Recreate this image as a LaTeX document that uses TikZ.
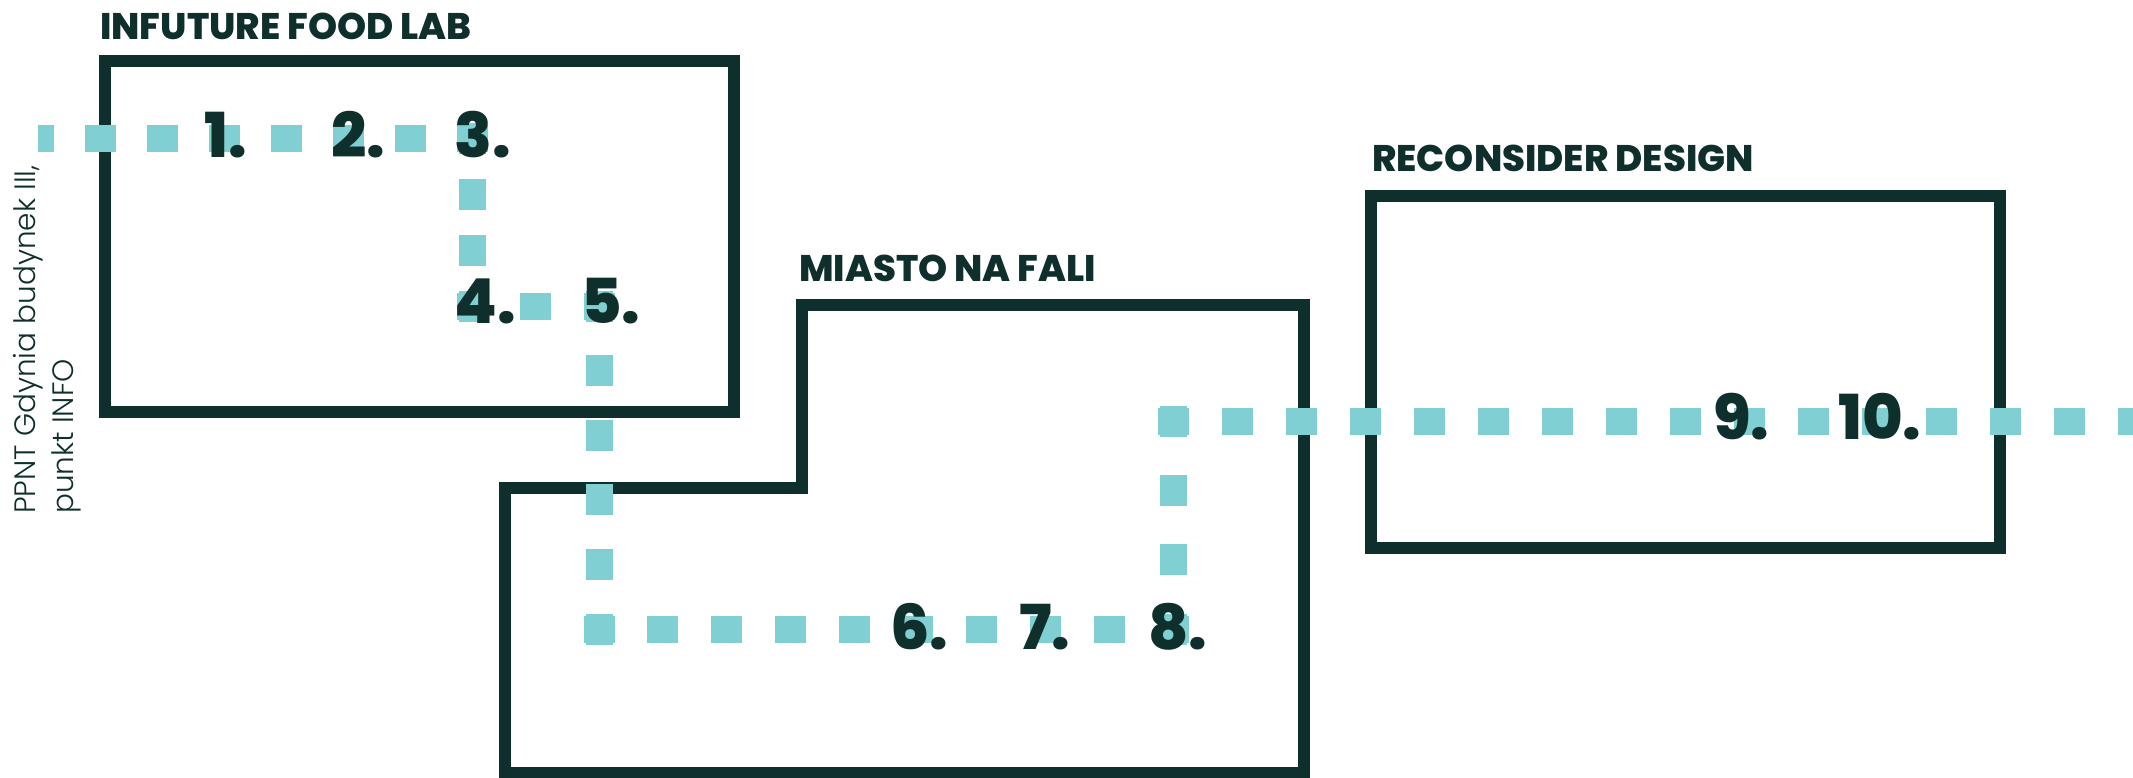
\documentclass[tikz,border=0pt]{standalone}
\usepackage{fontspec}
\setmainfont{Poppins}
\newfontfamily\thinfont{Poppins Light}
\newfontfamily\heavyfont{Poppins ExtraBold}
\definecolor{inkdark}{HTML}{0F2F2C}
\definecolor{routeteal}{HTML}{7FCFD3}

\begin{document}
\begin{tikzpicture}[x=1pt, y=-1pt,
    room/.style={draw=inkdark, line width=12pt, line join=miter},
    route/.style={draw=routeteal, line width=27pt, line cap=butt},
    leg/.style={route, shorten <=-15.5pt, shorten >=-15.5pt},
    roomname/.style={anchor=base west, inner sep=0pt, text=inkdark, font=\heavyfont\fontsize{37}{37}\selectfont},
    stop/.style={anchor=base west, inner sep=0pt, text=inkdark, font=\heavyfont\fontsize{62}{62}\selectfont}]
    \useasboundingbox (0,0) rectangle (2133,778);

    % 1. Rooms and their names
    \draw[room] (105,61) rectangle (734,412);
    \draw[room] (802,305) -- (1304,305) -- (1304,773) -- (505,773) -- (505,488) -- (802,488) -- cycle;
    \draw[room] (1371,196) rectangle (2000,548);

    \node[roomname] (lab) at (100,40) {INFUTURE FOOD LAB};
    \node[roomname] (fala) at (799,281) {MIASTO NA FALI};
    \node[roomname] (design) at (1372,172) {RECONSIDER DESIGN};

    % 2. Corners of the route
    \coordinate (start) at (38,139);
    \coordinate (c3) at (472,139);
    \coordinate (c4) at (472,306);
    \coordinate (c5) at (599,306);
    \coordinate (c6) at (599,629);
    \coordinate (c8) at (1173,629);
    \coordinate (c9) at (1173,421);
    \coordinate (finish) at (2133,421);

    % 3. Route, one leg at a time (square at every corner)
    \draw[route, dash pattern=on 31pt off 31pt, dash phase=15pt, shorten >=-15.5pt] (start) -- (c3);
    \draw[leg, dash pattern=on 31pt off 24.67pt] (c3) -- (c4);
    \draw[leg, dash pattern=on 31pt off 32.5pt] (c4) -- (c5);
    \draw[leg, dash pattern=on 31pt off 33.6pt] (c5) -- (c6);
    \draw[leg, dash pattern=on 31pt off 32.78pt] (c6) -- (c8);
    \draw[leg, dash pattern=on 31pt off 38.33pt] (c8) -- (c9);
    \draw[route, dash pattern=on 31pt off 33pt, shorten <=-15.5pt] (c9) -- (finish);

    % 4. Numbered stops
    \node[stop] (s1) at (204,158) {1.};
    \node[stop] (s2) at (331,158) {2.};
    \node[stop] (s3) at (454,158) {3.};
    \node[stop] (s4) at (454,323) {4.};
    \node[stop] (s5) at (581,323) {5.};
    \node[stop] (s6) at (890,649) {6.};
    \node[stop] (s7) at (1019,649) {7.};
    \node[stop] (s8) at (1148,649) {8.};
    \node[stop] (s9) at (1713,439) {9.};
    \node[stop] (s10) at (1838,439) {10.};

    % 5. Starting point
    \node[rotate=90, anchor=north west, align=left, inner sep=0pt, text=inkdark,
          font=\thinfont\fontsize{29.5}{38}\selectfont] (info) at (13,514) {PPNT Gdynia budynek III,\\punkt INFO};
\end{tikzpicture}
\end{document}
